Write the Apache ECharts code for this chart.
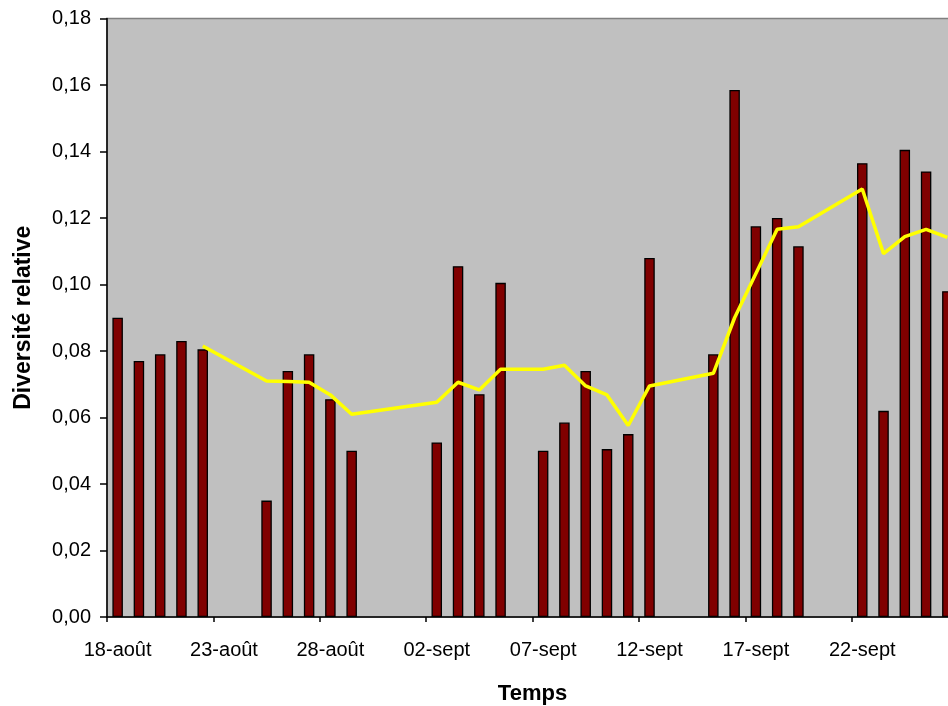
<!DOCTYPE html>
<html>
<head>
<meta charset="utf-8">
<script src="https://cdn.jsdelivr.net/npm/echarts@6/dist/echarts.min.js"></script>
<style>
  html, body { margin: 0; padding: 0; background: #ffffff; overflow: hidden; }
  #chart { width: 948px; height: 706px; }
</style>
</head>
<body>
<div id="chart"></div>
<script>
// Daily categories, 18 August to 26 September
const days = [
  '18-août', '19-août', '20-août', '21-août', '22-août', '23-août', '24-août',
  '25-août', '26-août', '27-août', '28-août', '29-août', '30-août', '31-août',
  '01-sept', '02-sept', '03-sept', '04-sept', '05-sept', '06-sept', '07-sept',
  '08-sept', '09-sept', '10-sept', '11-sept', '12-sept', '13-sept', '14-sept',
  '15-sept', '16-sept', '17-sept', '18-sept', '19-sept', '20-sept', '21-sept',
  '22-sept', '23-sept', '24-sept', '25-sept', '26-sept'
];

// Daily relative diversity (no sample on null days)
const diversite = [
  0.090, 0.077, 0.079, 0.083, 0.0805, null, null,
  0.035, 0.074, 0.079, 0.0655, 0.050, null, null,
  null, 0.0525, 0.1055, 0.067, 0.1005, null, 0.050,
  0.0585, 0.074, 0.0505, 0.055, 0.108, null, null,
  0.079, 0.1585, 0.1175, 0.120, 0.1115, null, null,
  0.1365, 0.062, 0.1405, 0.134, 0.098
];

// Smoothed trend of the daily values
const tendance = [
  null, null, null, null, 0.0815, null, null,
  0.0710, 0.0708, 0.0706, 0.0668, 0.0610, null, null,
  null, 0.0646, 0.0706, 0.0683, 0.0745, null, 0.0745,
  0.0757, 0.0695, 0.0668, 0.0576, 0.0695, null, null,
  0.0733, 0.0900, 0.1033, 0.1166, 0.1174, null, null,
  0.1287, 0.1093, 0.1144, 0.1166, 0.1142
];

const yTicks = { min: 0, max: 0.18, step: 0.02 };

const chart = echarts.init(document.getElementById('chart'), null, { renderer: 'canvas' });
const font = 'Liberation Sans, Arial, sans-serif';

chart.setOption({
  animation: false,
  backgroundColor: '#ffffff',
  grid: {
    left: 107,
    top: 18.5,
    width: 851,          // the plot runs a little past the right edge
    height: 598.5,
    outerBoundsMode: 'none',
    show: true,
    backgroundColor: '#c0c0c0',
    borderColor: '#808080',
    borderWidth: 1.5
  },
  xAxis: {
    type: 'category',
    data: days,
    boundaryGap: true,
    name: 'Temps',
    nameLocation: 'middle',
    nameGap: 66,
    nameTextStyle: { fontFamily: font, fontSize: 22, fontWeight: 'bold', color: '#000' },
    axisLine: { lineStyle: { color: '#000', width: 1.5 } },
    axisTick: { show: true, interval: 4, length: 5, lineStyle: { color: '#000', width: 1.5 } },
    axisLabel: { interval: 4, margin: 23, fontFamily: font, fontSize: 20, color: '#000' },
    splitLine: { show: false }
  },
  yAxis: {
    type: 'value',
    min: yTicks.min,
    max: yTicks.max,
    interval: yTicks.step,
    name: 'Diversité relative',
    nameLocation: 'middle',
    nameGap: 72,
    nameRotate: 90,
    nameTextStyle: { fontFamily: font, fontSize: 23, fontWeight: 'bold', color: '#000' },
    axisLine: { show: true, lineStyle: { color: '#000', width: 1.5 } },
    axisTick: { show: true, length: 7, lineStyle: { color: '#000', width: 1.5 } },
    axisLabel: {
      margin: 16,
      fontFamily: font,
      fontSize: 20,
      color: '#000',
      formatter: v => v.toFixed(2).replace('.', ',')
    },
    splitLine: { show: false }
  },
  series: [
    {
      name: 'Diversité',
      type: 'bar',
      data: diversite,
      barWidth: 10.5,
      itemStyle: { color: '#800000', borderColor: '#000', borderWidth: 1.3 }
    },
    {
      name: 'Tendance',
      type: 'line',
      data: tendance,
      connectNulls: true,
      showSymbol: false,
      symbol: 'none',
      lineStyle: { color: '#ffff00', width: 3.5 },
      z: 3
    }
  ]
});
</script>
</body>
</html>
